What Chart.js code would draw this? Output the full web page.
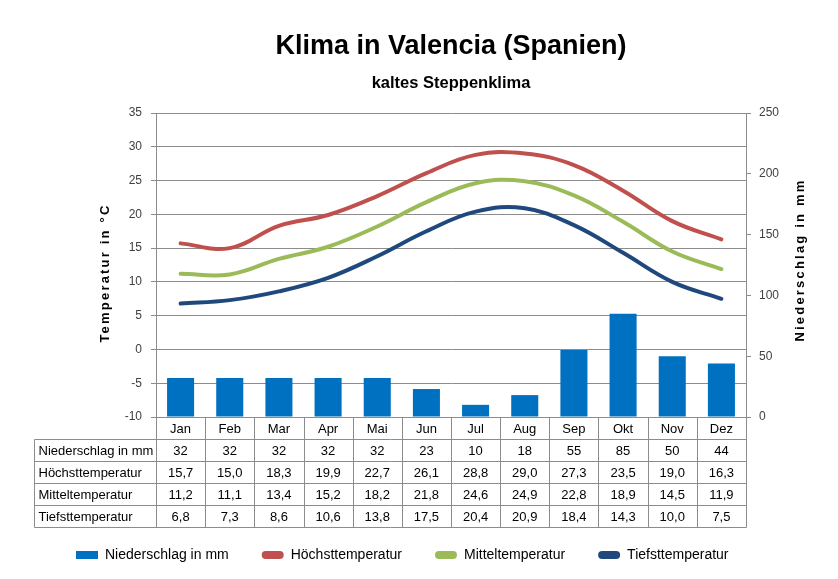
<!DOCTYPE html>
<html><head><meta charset="utf-8">
<script src="https://cdn.jsdelivr.net/npm/chart.js@4/dist/chart.umd.min.js"></script>
<style>html,body{margin:0;padding:0;background:#fff}#wrap{width:838px;height:579px;position:relative}</style>
</head><body><div id="wrap"><canvas id="c" width="838" height="579"></canvas></div>
<script>
const TITLE = 'Klima in Valencia (Spanien)';
const SUBTITLE = 'kaltes Steppenklima';
const months = ['Jan','Feb','Mar','Apr','Mai','Jun','Jul','Aug','Sep','Okt','Nov','Dez'];
const niederschlag = [32,32,32,32,32,23,10,18,55,85,50,44];
const hoechst = [15.7,15.0,18.3,19.9,22.7,26.1,28.8,29.0,27.3,23.5,19.0,16.3];
const mittel = [11.2,11.1,13.4,15.2,18.2,21.8,24.6,24.9,22.8,18.9,14.5,11.9];
const tiefst = [6.8,7.3,8.6,10.6,13.8,17.5,20.4,20.9,18.4,14.3,10.0,7.5];
const seriesNames = ['Niederschlag in mm','Höchsttemperatur','Mitteltemperatur','Tiefsttemperatur'];
const tempAxis = {min:-10, max:35, step:5};
const precAxis = {min:0, max:250, step:50};
const leftAxisTitle = 'Temperatur in °C';
const rightAxisTitle = 'Niederschlag in mm';

const FAMILY = "'Liberation Sans', Arial, sans-serif";
const GRID = '#8c8c8c';
const COLORS = ['#0070C0','#C0504D','#9BBB59','#1F497D'];

const fmt1 = v => v.toFixed(1).replace('.', ',');

const tablePlugin = {
  id: 'dataTable',
  afterDraw(chart) {
    const ctx = chart.ctx, xs = chart.scales.x, a = chart.chartArea;
    const n = months.length;
    const colW = (a.right - a.left) / n;
    const top = Math.round(a.bottom) + 0.5;
    const rowH = 22;
    const tableLeft = 34.5;
    const right = Math.round(a.right) + 0.5;
    const rows = [
      [seriesNames[0], niederschlag.map(v => String(v))],
      [seriesNames[1], hoechst.map(fmt1)],
      [seriesNames[2], mittel.map(fmt1)],
      [seriesNames[3], tiefst.map(fmt1)]
    ];
    ctx.save();
    ctx.strokeStyle = GRID; ctx.lineWidth = 1;
    ctx.beginPath();
    // top line (axis)
    ctx.moveTo(Math.round(a.left) + 0.5, top); ctx.lineTo(right, top);
    for (let r = 1; r <= rows.length + 1; r++) {
      const y = top + r * rowH;
      ctx.moveTo(tableLeft, y); ctx.lineTo(right, y);
    }
    const bottom = top + (rows.length + 1) * rowH;
    ctx.moveTo(tableLeft, top + rowH); ctx.lineTo(tableLeft, bottom);
    for (let i = 0; i <= n; i++) {
      const xp = Math.round(xs.getPixelForValue(i) - colW / 2) + 0.5;
      const xx = i === n ? right : xp;
      ctx.moveTo(xx, top); ctx.lineTo(xx, bottom);
    }
    ctx.stroke();
    ctx.fillStyle = '#000';
    ctx.font = '13px ' + FAMILY;
    ctx.textBaseline = 'middle';
    ctx.textAlign = 'center';
    months.forEach((m, i) => ctx.fillText(m, xs.getPixelForValue(i), top + rowH / 2 + 0.5));
    rows.forEach((row, r) => {
      const yc = top + (r + 1) * rowH + rowH / 2 + 0.5;
      ctx.textAlign = 'left';
      ctx.fillText(row[0], tableLeft + 4, yc);
      ctx.textAlign = 'center';
      row[1].forEach((t, i) => ctx.fillText(t, xs.getPixelForValue(i), yc));
    });
    ctx.restore();
  }
};

const axisTitlePlugin = {
  id: 'axisTitles',
  afterDraw(chart) {
    const ctx = chart.ctx, a = chart.chartArea;
    const mid = (a.top + a.bottom) / 2;
    ctx.save();
    ctx.fillStyle = '#000';
    ctx.font = 'bold 13px ' + FAMILY;
    try { ctx.letterSpacing = '2.2px'; } catch (e) {}
    ctx.textAlign = 'center';
    ctx.textBaseline = 'middle';
    ctx.save();
    ctx.translate(a.left - 51, mid + 8);
    ctx.rotate(-Math.PI / 2);
    ctx.fillText(leftAxisTitle, 0, 0);
    ctx.restore();
    ctx.save();
    ctx.translate(a.right + 54, mid - 5);
    ctx.rotate(-Math.PI / 2);
    ctx.fillText(rightAxisTitle, 0, 0);
    ctx.restore();
    ctx.restore();
  }
};

const shiftPlugin = {
  id: 'shiftLegend',
  afterLayout(chart) {
    const lg = chart.legend;
    if (lg) { lg.left -= 21; lg.right -= 21; }
  }
};

const lineDs = (label, data, color) => ({
  type: 'line', label, data, yAxisID: 'y',
  borderColor: color, backgroundColor: color, borderWidth: 4,
  pointRadius: 0, tension: 0.4, fill: false,
  borderCapStyle: 'round', borderJoinStyle: 'round'
});

new Chart(document.getElementById('c'), {
  type: 'bar',
  data: {
    labels: months,
    datasets: [
      { type: 'bar', label: seriesNames[0], data: niederschlag, yAxisID: 'y1',
        backgroundColor: COLORS[0], barPercentage: 0.55, categoryPercentage: 1 },
      lineDs(seriesNames[1], hoechst, COLORS[1]),
      lineDs(seriesNames[2], mittel, COLORS[2]),
      lineDs(seriesNames[3], tiefst, COLORS[3])
    ]
  },
  options: {
    responsive: false, animation: false, devicePixelRatio: 1,
    layout: { padding: { left: 64, right: 0, top: 0, bottom: 7 } },
    scales: {
      x: {
        type: 'category', offset: true,
        grid: { display: false }, border: { display: false },
        ticks: { display: false },
        afterFit(s) { s.height = 98; }
      },
      y: {
        position: 'left', min: tempAxis.min, max: tempAxis.max,
        ticks: { stepSize: tempAxis.step, padding: 9, color: '#404040', font: { family: FAMILY, size: 12 } },
        grid: { color: GRID, tickLength: 5 },
        border: { color: GRID },
        afterFit(s) { s.width = 92; }
      },
      y1: {
        position: 'right', min: precAxis.min, max: precAxis.max,
        ticks: { stepSize: precAxis.step, padding: 8, color: '#404040', font: { family: FAMILY, size: 12 } },
        grid: { color: GRID, tickLength: 5, drawOnChartArea: false },
        border: { color: GRID },
        afterFit(s) { s.width = 92; }
      }
    },
    plugins: {
      title: { display: true, text: TITLE, color: '#000',
        font: { family: FAMILY, size: 27, weight: 'bold' }, padding: { top: 30.1, bottom: 0 } },
      subtitle: { display: true, text: SUBTITLE, color: '#000',
        font: { family: FAMILY, size: 16.5, weight: 'bold' }, padding: { top: 10.6, bottom: 20.1 } },
      legend: {
        position: 'bottom', align: 'start',
        labels: {
          font: { family: FAMILY, size: 14 }, color: '#000',
          boxWidth: 22, boxHeight: 8, padding: 33, useBorderRadius: true,
          generateLabels(chart) {
            return Chart.defaults.plugins.legend.labels.generateLabels(chart).map((it, i) => {
              it.fillStyle = COLORS[it.datasetIndex];
              it.strokeStyle = COLORS[it.datasetIndex];
              it.lineWidth = 0;
              it.borderRadius = it.datasetIndex === 0 ? 0 : 4;
              return it;
            });
          }
        }
      },
      tooltip: { enabled: false }
    }
  },
  plugins: [tablePlugin, axisTitlePlugin, shiftPlugin]
});
</script>
</body></html>
